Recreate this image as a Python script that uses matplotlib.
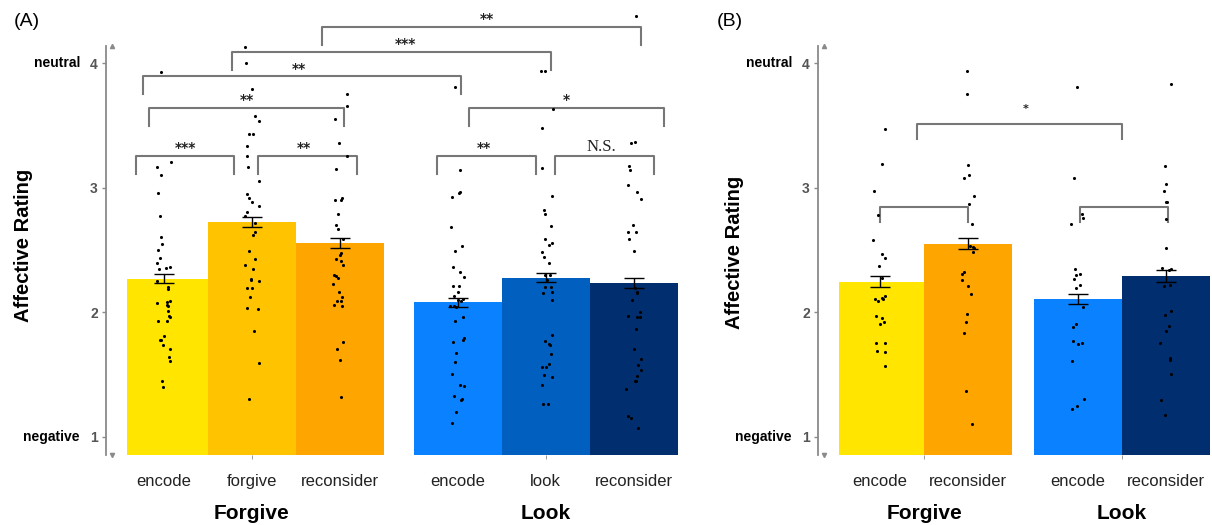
import matplotlib
matplotlib.use("Agg")
import matplotlib.pyplot as plt
from matplotlib import transforms

plt.rcParams['font.family'] = ['Liberation Sans', 'DejaVu Sans']

# ---- panel A : bar means and standard errors ----
a_labels = ['encode', 'forgive', 'reconsider', 'encode', 'look', 'reconsider']
a_groups = ['Forgive', 'Look']
a_means = [2.27, 2.726, 2.558, 2.083, 2.279, 2.237]
a_se = [0.036, 0.037, 0.037, 0.036, 0.036, 0.038]
a_colors = ['#FFE500', '#FFC300', '#FFA500', '#0A82FF', '#005FBF', '#002E6E']

# single participants (value, horizontal jitter in bar widths)
a_fg_encode = [3.934, 3.171, 3.206, 3.102, 2.962, 2.772, 2.609, 2.548, 2.502, 2.438,
               2.400, 2.352, 2.360, 2.365, 2.256, 2.207, 2.189, 2.079, 2.087, 2.095,
               2.060, 2.052, 2.012, 1.972, 1.966, 1.932, 1.929, 1.814, 1.782, 1.779,
               1.742, 1.707, 1.643, 1.608, 1.450, 1.402]
a_fg_encode_dx = [-0.034, -0.076, 0.076, -0.038, -0.072, -0.045, -0.038, -0.023, -0.064, -0.049,
                  -0.080, -0.057, 0.023, 0.068, -0.076, 0.042, 0.045, -0.080, 0.030, 0.068,
                  0.030, 0.042, 0.045, 0.053, 0.072, -0.064, 0.030, 0.000, -0.042, -0.034,
                  -0.008, 0.064, 0.053, 0.068, -0.023, -0.008]
a_fg_forgive = [4.133, 4.007, 3.793, 3.581, 3.541, 3.431, 3.431, 3.337, 3.255, 3.169,
                3.059, 2.949, 2.917, 2.890, 2.858, 2.810, 2.778, 2.721, 2.649, 2.622,
                2.491, 2.427, 2.379, 2.349, 2.269, 2.261, 2.256, 2.199, 2.199, 2.127,
                2.036, 2.028, 1.851, 1.592, 1.308]
a_fg_forgive_dx = [-0.076, -0.068, 0.000, 0.038, 0.076, -0.030, 0.008, -0.057, -0.057, -0.045,
                   0.083, -0.057, -0.030, 0.000, 0.083, -0.057, -0.076, 0.038, 0.030, 0.011,
                   -0.030, 0.038, -0.076, 0.008, -0.011, -0.008, 0.076, -0.053, 0.000, -0.023,
                   -0.053, 0.068, 0.023, 0.083, -0.038]
a_fg_recon = [3.752, 3.659, 3.557, 3.359, 3.255, 3.155, 2.901, 2.901, 2.920, 2.789,
              2.705, 2.671, 2.588, 2.481, 2.462, 2.427, 2.414, 2.379, 2.301, 2.296,
              2.277, 2.229, 2.165, 2.127, 2.090, 2.090, 2.058, 2.052, 1.763, 1.704,
              1.616, 1.324]
a_fg_recon_dx = [0.083, 0.080, -0.057, -0.011, 0.080, -0.045, -0.057, 0.008, 0.027, -0.019,
                 -0.045, -0.027, 0.038, 0.011, 0.004, -0.049, 0.011, 0.038, -0.068, -0.049,
                 -0.019, -0.076, -0.015, 0.019, -0.030, 0.008, -0.072, 0.027, 0.030, -0.030,
                 0.000, 0.008]
a_lk_encode = [3.809, 3.145, 2.930, 2.962, 2.968, 2.687, 2.534, 2.494, 2.365, 2.328,
               2.282, 2.210, 2.215, 2.167, 2.133, 2.100, 2.106, 2.095, 2.052, 2.047,
               2.052, 1.966, 1.934, 1.795, 1.779, 1.763, 1.677, 1.600, 1.503, 1.418,
               1.407, 1.327, 1.308, 1.297, 1.203, 1.110]
a_lk_encode_dx = [-0.030, 0.023, -0.061, 0.015, 0.030, -0.076, 0.045, -0.030, -0.053, 0.027,
                  0.076, -0.057, 0.019, 0.004, -0.045, 0.008, 0.064, 0.034, -0.087, -0.023,
                  -0.038, 0.057, -0.030, 0.068, 0.061, -0.057, -0.019, -0.027, -0.061, 0.023,
                  0.072, -0.038, 0.053, 0.042, -0.019, -0.061]
a_lk_look = [3.936, 3.936, 3.635, 3.484, 3.161, 2.936, 2.823, 2.789, 2.695, 2.593,
             2.556, 2.540, 2.483, 2.448, 2.395, 2.301, 2.301, 2.261, 2.207, 2.207,
             2.154, 2.167, 2.100, 1.817, 1.771, 1.739, 1.745, 1.667, 1.586, 1.565,
             1.565, 1.495, 1.479, 1.415, 1.265, 1.265]
a_lk_look_dx = [-0.049, -0.011, 0.080, -0.042, -0.042, 0.076, -0.019, -0.011, 0.064, -0.008,
                0.072, 0.038, -0.038, -0.019, 0.038, -0.004, 0.045, 0.015, -0.004, 0.064,
                -0.030, 0.076, 0.076, 0.076, -0.011, 0.045, 0.034, 0.064, 0.038, 0.008,
                -0.038, -0.015, 0.076, -0.042, -0.030, 0.027]
a_lk_recon = [4.384, 3.359, 3.367, 3.177, 3.145, 3.022, 2.968, 2.909, 2.705, 2.647,
              2.644, 2.590, 2.497, 2.194, 2.167, 2.154, 2.100, 1.974, 1.966, 1.966,
              2.006, 1.870, 1.704, 1.624, 1.578, 1.538, 1.490, 1.452, 1.452, 1.383,
              1.169, 1.150, 1.072]
a_lk_recon_dx = [0.023, -0.034, 0.015, -0.049, -0.045, -0.064, 0.034, 0.080, -0.011, -0.064,
                 0.027, -0.057, 0.004, 0.011, 0.038, 0.034, -0.015, -0.064, 0.038, 0.076,
                 0.076, 0.023, 0.004, 0.080, 0.045, 0.080, 0.038, 0.011, 0.030, -0.083,
                 -0.061, -0.027, 0.045]

# significance brackets A: left, right, top, label, label x
a_br_x1 = [1.795, 0.77, -0.24, -0.17, -0.32, 1.065, 3.466, 3.106, 4.443]
a_br_x2 = [5.42, 4.40, 3.38, 2.045, 0.80, 2.19, 5.68, 4.227, 5.568]
a_br_top = [4.296, 4.095, 3.90, 3.645, 3.259, 3.259, 3.645, 3.259, 3.259]
a_br_lab = ['**', '***', '**', '**', '***', '**', '*', '**', 'N.S.']
a_br_lx = [3.67, 2.74, 1.53, 0.94, 0.25, 1.59, 4.576, 3.636, 4.974]

# ---- panel B ----
b_labels = ['encode', 'reconsider', 'encode', 'reconsider']
b_groups = ['Forgive', 'Look']
b_means = [2.246, 2.552, 2.11, 2.294]
b_se = [0.043, 0.042, 0.040, 0.046]
b_colors = ['#FFE500', '#FFA500', '#0A82FF', '#002E6E']

b_fg_encode = [3.476, 3.189, 2.972, 2.779, 2.584, 2.471, 2.436, 2.377, 2.276, 2.107,
               2.093, 2.112, 2.136, 2.104, 1.973, 1.957, 1.924, 1.908, 1.753, 1.753,
               1.694, 1.686, 1.573]
b_fg_encode_dx = [0.057, 0.027, -0.072, -0.027, -0.076, 0.027, 0.053, -0.008, 0.027, -0.053,
                  -0.019, 0.023, 0.053, 0.030, -0.045, 0.027, 0.049, 0.000, -0.045, 0.057,
                  -0.034, 0.061, 0.057]
b_fg_recon = [3.940, 3.757, 3.186, 3.082, 3.106, 2.935, 2.871, 2.712, 2.530, 2.525,
              2.519, 2.487, 2.310, 2.321, 2.264, 2.211, 2.150, 1.989, 1.924, 1.833,
              1.370, 1.107]
b_fg_recon_dx = [-0.015, -0.015, 0.000, -0.045, 0.011, 0.064, 0.008, 0.045, 0.027, 0.053,
                 0.072, 0.061, -0.068, -0.042, -0.064, 0.000, 0.038, -0.015, -0.027, -0.045,
                 -0.023, 0.045]
b_lk_encode = [3.808, 3.077, 2.793, 2.755, 2.712, 2.345, 2.300, 2.305, 2.265, 2.224,
               2.195, 2.047, 1.908, 1.887, 1.774, 1.750, 1.756, 1.611, 1.308, 1.252,
               1.228]
b_lk_encode_dx = [-0.011, -0.045, 0.049, 0.053, -0.076, -0.038, -0.023, 0.023, -0.042, 0.023,
                  -0.023, 0.053, -0.019, -0.061, -0.057, -0.004, 0.049, -0.072, 0.068, -0.008,
                  -0.064]
b_lk_recon = [3.832, 3.176, 3.028, 2.975, 2.889, 2.885, 2.752, 2.517, 2.358, 2.342,
              2.345, 2.211, 2.224, 2.015, 1.981, 1.895, 1.852, 1.753, 1.633, 1.619,
              1.506, 1.300, 1.179]
b_lk_recon_dx = [0.057, -0.011, 0.000, -0.019, 0.000, 0.015, 0.004, 0.000, -0.045, 0.038,
                 0.061, -0.027, 0.045, 0.061, -0.015, 0.038, 0.000, -0.068, 0.045, 0.045,
                 0.061, -0.061, -0.008]

b_br_x1 = [0.42, 0.0, 2.27]
b_br_x2 = [2.75, 1.0, 3.27]
b_br_top = [3.516, 2.849, 2.849]
b_br_lab = ['*', '', '']
b_br_lx = [1.65, 0.5, 2.77]

# ---- drawing ----
W, H = 1212, 525
GREY = '#8a8a8a'
fig = plt.figure(figsize=(W / 100, H / 100), dpi=100)
axA = fig.add_axes([127 / W, 70 / H, 556 / W, 447.6 / H])
axB = fig.add_axes([839 / W, 70 / H, 373 / W, 447.6 / H])

pos_A = [0, 1, 2, 3.34, 4.34, 5.34]
pos_B = [0, 1, 2.25, 3.25]


def setup(ax, xlim):
    ax.set_xlim(*xlim)
    ax.set_ylim(0.855, 4.45)
    for s in ['top', 'right', 'bottom']:
        ax.spines[s].set_visible(False)
    ax.spines['left'].set_position(('outward', 15))
    ax.spines['left'].set_bounds(0.855, 4.14)
    ax.spines['left'].set_color(GREY)
    ax.spines['left'].set_linewidth(1.3)
    ax.set_yticks([1, 2, 3, 4])
    ax.tick_params(axis='y', length=3, width=1, color=GREY, labelsize=10,
                   labelcolor='#555555', pad=3)
    for t in ax.get_yticklabels():
        t.set_fontweight('bold')
    tr = transforms.offset_copy(ax.get_yaxis_transform(), fig=fig, x=-15, y=0, units='dots')
    ax.plot([0], [4.14], marker='^', ms=3, color=GREY, transform=tr, clip_on=False)
    ax.plot([0], [0.855], marker='v', ms=3, color=GREY, transform=tr, clip_on=False)


def draw_panel(ax, pos, means, se, colors, labels, groups, points, jitter,
               bx1, bx2, btop, blab, blx, drop, star_size, star_off,
               lab_left, ylab_x, ylab_y, panel, panel_x):
    ax.bar(pos, means, width=1.0, color=colors, zorder=1)
    ax.errorbar(pos, means, yerr=se, fmt='none', ecolor='black', elinewidth=1,
                capsize=7.2, capthick=1, zorder=3)
    for p, vals, dx in zip(pos, points, jitter):
        ax.scatter([p + d for d in dx], vals, s=5, color='black', linewidths=0, zorder=4)
    xt = ax.get_xaxis_transform()
    for p, lab in zip(pos, labels):
        ax.text(p, -0.0603, lab, transform=xt, ha='center', va='center',
                fontsize=12, color='#222222')
    half = len(pos) // 2
    centers = [(pos[0] + pos[half - 1]) / 2, (pos[half] + pos[-1]) / 2]
    ax.set_xticks([])
    ax.set_xticks(centers, minor=True)
    ax.tick_params(axis='x', which='minor', length=3, color=GREY)
    for c, g in zip(centers, groups):
        ax.text(c, -0.1296, g, transform=xt, ha='center', va='center',
                fontsize=15, fontweight='bold')
    for x1, x2, top, lab, lx in zip(bx1, bx2, btop, blab, blx):
        ax.plot([x1, x1, x2, x2], [top - drop, top, top, top - drop], color='#777777',
                lw=1.5, clip_on=False, zorder=2)
        if lab == 'N.S.':
            ax.text(lx, top + 0.008, lab, ha='center', va='bottom', fontsize=12,
                    family='Liberation Serif', color='#222222')
        elif lab:
            ax.text(lx, top + star_off, lab, ha='center', va='baseline', fontsize=star_size,
                    fontweight='bold', family='DejaVu Sans', color='#222222')
    tr = transforms.blended_transform_factory(fig.transFigure, ax.transData)
    ax.text(lab_left / W, 4, 'neutral', transform=tr, ha='right', va='center',
            fontsize=10, fontweight='bold')
    ax.text(lab_left / W, 1, 'negative', transform=tr, ha='right', va='center',
            fontsize=10, fontweight='bold')
    fig.text(ylab_x / W, 1 - ylab_y / H, 'Affective Rating', rotation=90, ha='center',
             va='center', fontsize=14.5, fontweight='bold')
    fig.text(panel_x / W, 1 - 22 / H, panel, ha='left', va='center', fontsize=14)


setup(axA, (-0.42, 5.9))
setup(axB, (-0.466, 3.773))

draw_panel(axA, pos_A, a_means, a_se, a_colors, a_labels, a_groups,
           [a_fg_encode, a_fg_forgive, a_fg_recon, a_lk_encode, a_lk_look, a_lk_recon],
           [a_fg_encode_dx, a_fg_forgive_dx, a_fg_recon_dx, a_lk_encode_dx, a_lk_look_dx,
            a_lk_recon_dx],
           a_br_x1, a_br_x2, a_br_top, a_br_lab, a_br_lx, 0.147, 10, 0.027,
           80, 24, 245, '(A)', 14)

draw_panel(axB, pos_B, b_means, b_se, b_colors, b_labels, b_groups,
           [b_fg_encode, b_fg_recon, b_lk_encode, b_lk_recon],
           [b_fg_encode_dx, b_fg_recon_dx, b_lk_encode_dx, b_lk_recon_dx],
           b_br_x1, b_br_x2, b_br_top, b_br_lab, b_br_lx, 0.12, 8, 0.097,
           792, 735, 252, '(B)', 717)

fig.savefig('out.png', dpi=100)
